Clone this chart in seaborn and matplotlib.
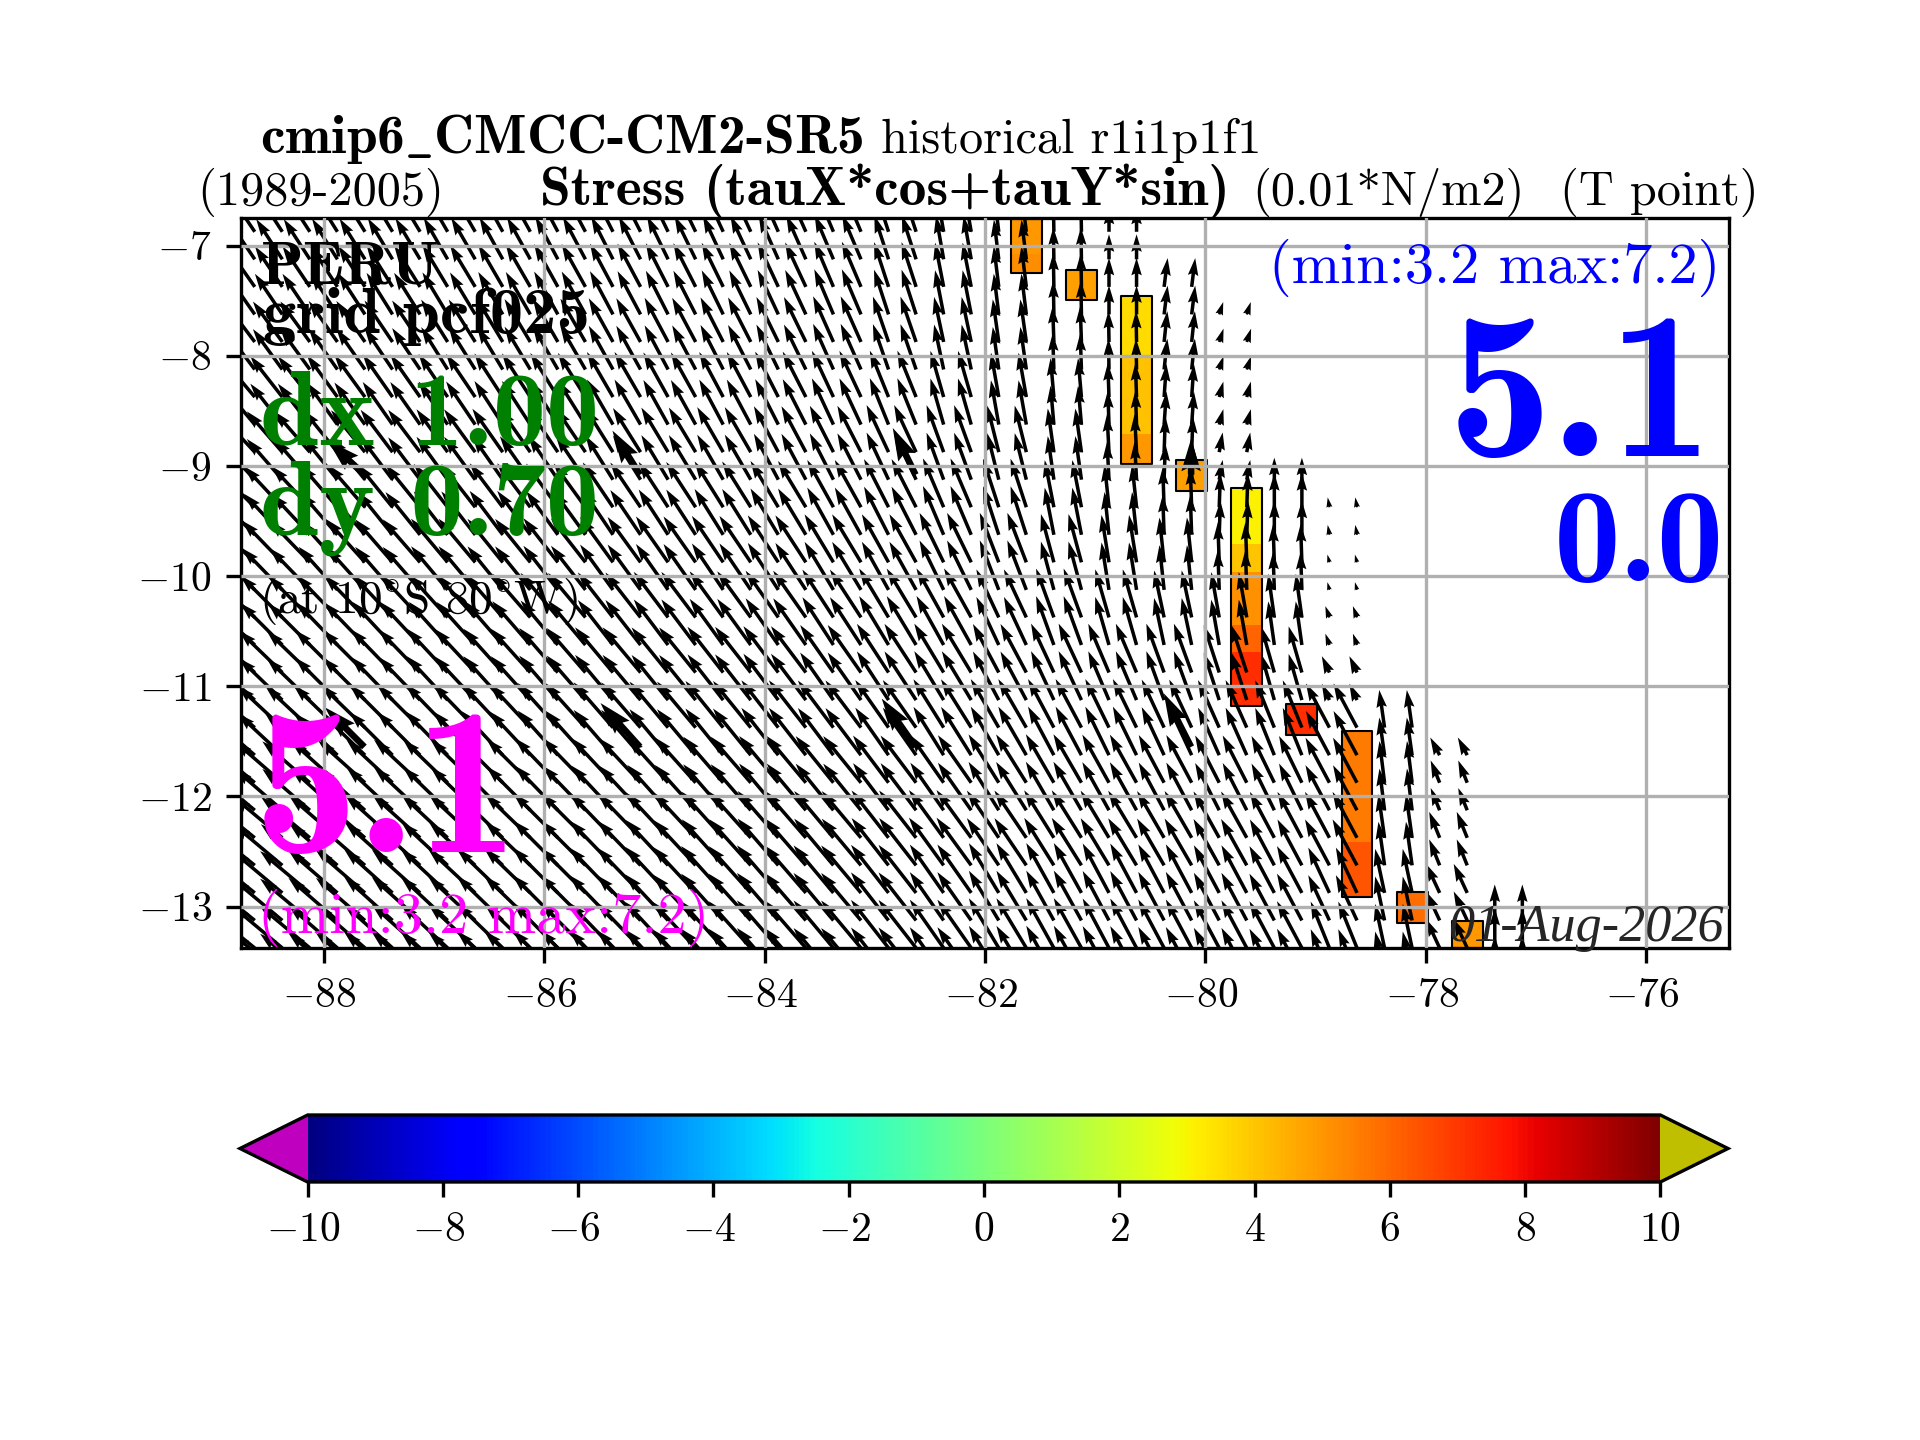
#!/usr/bin/env python3
# -*- coding: utf-8 -*-

import numpy as np
import pandas as pd
import matplotlib
matplotlib.use("Agg")
import matplotlib.pyplot as plt
from matplotlib.transforms import ScaledTranslation
import seaborn as sns

N = np.nan

# two arrows per block in each direction, 0.5 deg blocks
BLOCK_LON = [-88.75, -88.25, -87.75, -87.25, -86.75, -86.25, -85.75, -85.25,
             -84.75, -84.25, -83.75, -83.25, -82.75, -82.25, -81.75, -81.25,
             -80.75, -80.25, -79.75, -79.25, -78.75, -78.25, -77.75, -77.25]
BLOCK_LAT = [-7.0, -7.5, -8.0, -8.5, -9.0, -9.5, -10.0, -10.5, -11.0, -11.5,
             -12.0, -12.5, -13.0, -13.5]
# northernmost ocean row of each block column
LAT_TOP = [-6.875] * 17 + [-7.375, -7.625, -9.125, -9.375, -11.375, -11.625, -13.125]

ANGLE = [
    [124, 123, 122, 121, 120, 119, 118, 117, 116, 115, 114, 113, 108, 100, 97, 91, 90, 82, N, N, N, N, N, N],
    [125, 124, 123, 122, 121, 120, 119, 118, 117, 116, 115, 113, 108, 101, 97, 91, 90, 83, 72, N, N, N, N, N],
    [127, 126, 125, 124, 122, 121, 120, 119, 118, 117, 116, 114, 109, 102, 98, 92, 91, 84, 72, N, N, N, N, N],
    [130, 128, 126, 125, 124, 123, 122, 120, 119, 118, 117, 115, 112, 106, 100, 95, 92, 86, 75, N, N, N, N, N],
    [133, 131, 129, 127, 126, 125, 124, 122, 121, 120, 118, 117, 115, 110, 104, 98, 93, 88, 80, 90, N, N, N, N],
    [135, 133, 131, 129, 128, 127, 126, 124, 123, 122, 121, 119, 117, 113, 108, 101, 96, 92, 88, 90, 100, N, N, N],
    [136, 134, 132, 131, 130, 129, 128, 126, 125, 124, 123, 121, 119, 116, 111, 105, 99, 96, 92, 92, 105, N, N, N],
    [137, 135, 134, 133, 132, 131, 130, 128, 127, 126, 125, 123, 121, 119, 115, 110, 106, 102, 100, 98, 110, N, N, N],
    [138, 136, 135, 134, 133, 132, 131, 130, 129, 128, 127, 125, 123, 121, 118, 115, 113, 110, 108, 106, 115, N, N, N],
    [139, 137, 136, 135, 134, 133, 132, 131, 130, 129, 128, 127, 125, 122, 120, 118, 116, 115, 114, 112, 118, 98, 118, N],
    [140, 139, 138, 137, 136, 135, 134, 133, 132, 131, 130, 129, 127, 125, 122, 120, 119, 118, 117, 116, 118, 97, 112, N],
    [141, 140, 139, 138, 137, 136, 135, 134, 133, 132, 131, 130, 128, 126, 124, 122, 121, 120, 119, 118, 118, 98, 112, N],
    [141, 140, 139, 138, 137, 136, 135, 134, 133, 132, 131, 130, 128, 125, 121, 119, 118, 118, 118, 118, 115, 102, 115, 90],
    [141, 140, 139, 138, 137, 136, 135, 134, 133, 132, 131, 130, 128, 125, 121, 119, 118, 118, 118, 118, 112, 102, 115, 90],
]

MAG = [
    [4.8, 4.8, 4.8, 4.8, 4.8, 4.8, 4.8, 4.8, 4.8, 4.8, 4.8, 4.8, 4.6, 4.4, 4.0, 3.2, 2.5, 2.8, N, N, N, N, N, N],
    [4.9, 4.9, 4.9, 4.9, 4.9, 4.9, 4.9, 4.9, 4.9, 4.9, 4.9, 4.9, 4.7, 4.5, 4.1, 3.4, 2.9, 2.9, 1.3, N, N, N, N, N],
    [5.0, 5.0, 5.0, 5.0, 5.0, 5.0, 5.0, 5.0, 5.0, 5.0, 5.0, 5.0, 4.8, 4.6, 4.3, 3.6, 3.1, 3.1, 1.4, N, N, N, N, N],
    [5.2, 5.2, 5.2, 5.2, 5.2, 5.2, 5.2, 5.2, 5.1, 5.1, 5.1, 5.1, 5.0, 4.8, 4.5, 3.9, 3.4, 3.3, 1.6, N, N, N, N, N],
    [5.4, 5.4, 5.4, 5.3, 5.3, 5.3, 5.3, 5.2, 5.2, 5.2, 5.2, 5.2, 5.2, 5.0, 4.8, 4.4, 3.8, 3.6, 2.0, 2.2, N, N, N, N],
    [5.6, 5.6, 5.6, 5.5, 5.5, 5.5, 5.4, 5.4, 5.4, 5.4, 5.4, 5.4, 5.4, 5.3, 5.1, 4.8, 4.3, 4.0, 3.4, 3.4, 1.0, N, N, N],
    [5.8, 5.8, 5.8, 5.7, 5.7, 5.6, 5.6, 5.6, 5.6, 5.6, 5.6, 5.6, 5.5, 5.5, 5.3, 5.0, 4.8, 4.5, 4.0, 3.8, 0.8, N, N, N],
    [5.9, 5.9, 5.9, 5.9, 5.8, 5.8, 5.8, 5.7, 5.7, 5.7, 5.7, 5.7, 5.7, 5.6, 5.3, 5.2, 5.0, 4.8, 4.6, 4.4, 1.2, N, N, N],
    [6.0, 6.0, 6.0, 6.0, 6.0, 5.9, 5.9, 5.9, 5.8, 5.8, 5.8, 5.8, 5.8, 5.7, 5.5, 5.4, 5.3, 5.2, 5.0, 4.8, 1.8, N, N, N],
    [6.1, 6.1, 6.1, 6.1, 6.1, 6.0, 6.0, 6.0, 6.0, 6.0, 6.0, 5.9, 5.8, 5.7, 5.6, 5.5, 5.4, 5.3, 5.2, 5.1, 5.0, 3.8, 2.0, N],
    [6.3, 6.3, 6.3, 6.3, 6.2, 6.2, 6.2, 6.1, 6.1, 6.1, 6.1, 6.0, 5.9, 5.8, 5.7, 5.6, 5.5, 5.4, 5.3, 5.2, 5.1, 4.2, 2.4, N],
    [6.4, 6.4, 6.4, 6.4, 6.3, 6.3, 6.3, 6.2, 6.2, 6.2, 6.2, 6.1, 6.0, 5.9, 5.7, 5.6, 5.5, 5.4, 5.3, 5.2, 5.2, 4.4, 2.8, N],
    [6.5, 6.5, 6.5, 6.5, 6.4, 6.4, 6.4, 6.3, 6.3, 6.3, 6.3, 6.2, 6.1, 5.9, 5.8, 5.7, 5.6, 5.5, 5.4, 5.3, 5.0, 4.5, 3.2, 3.6],
    [6.5, 6.5, 6.5, 6.5, 6.4, 6.4, 6.4, 6.3, 6.3, 6.3, 6.3, 6.2, 6.1, 5.9, 5.8, 5.7, 5.6, 5.5, 5.4, 5.3, 5.0, 4.5, 3.2, 4.0],
]

# sparse reference arrows drawn thicker
BIG_LON = [-87.63, -85.13, -82.63, -80.13, -87.63, -85.13, -82.63, -80.13]
BIG_LAT = [-9.08, -9.08, -9.08, -9.08, -11.55, -11.55, -11.55, -11.55]
BIG_ANGLE = [137, 122, 116, 90, 135, 132, 125, 117]
BIG_MAG = [5.0, 5.2, 5.2, 3.6, 5.6, 5.9, 5.9, 6.0]

# coastal cells: stress value by stretch of latitude
SEG_LON = [-81.625, -81.625, -81.125, -80.625, -80.625, -80.625, -80.125,
           -79.625, -79.625, -79.625, -79.625, -79.625, -79.125,
           -78.625, -78.625, -78.125, -77.625]
SEG_TOP = [-6.5, -7.08, -7.22, -7.46, -7.99, -8.71, -8.95,
           -9.20, -9.71, -9.96, -10.44, -10.69, -11.165,
           -11.41, -12.41, -12.87, -13.13]
SEG_BOTTOM = [-7.08, -7.245, -7.49, -7.99, -8.71, -8.98, -9.23,
              -9.71, -9.96, -10.44, -10.69, -11.18, -11.44,
              -12.41, -12.91, -13.15, -13.5]
SEG_VALUE = [4.96, 5.2, 4.8, 3.52, 4.13, 4.96, 4.8,
             3.12, 4.0, 5.1, 6.04, 7.2, 7.2,
             5.6, 6.4, 5.9, 4.96]

XTICKS = [-88, -86, -84, -82, -80, -78, -76]
YTICKS = [-7, -8, -9, -10, -11, -12, -13]
CTICKS = [-10, -8, -6, -4, -2, 0, 2, 4, 6, 8, 10]

sns.set_theme(style="ticks", rc={
    "font.size": 10, "axes.linewidth": 0.8, "axes.edgecolor": "black",
    "xtick.major.size": 3.5, "ytick.major.size": 3.5,
    "xtick.major.width": 0.8, "ytick.major.width": 0.8,
    "xtick.labelsize": 10, "ytick.labelsize": 10,
    "xtick.color": "black", "ytick.color": "black",
    "grid.color": "#b0b0b0", "grid.linewidth": 0.8,
    "axes.formatter.use_mathtext": True, "mathtext.fontset": "cm",
})
plt.rcParams["font.family"] = ["cmr10", "DejaVu Serif"]
plt.rcParams["axes.unicode_minus"] = False

W, H = 1920.0, 1440.0
fig = plt.figure(figsize=(6.4, 4.8), dpi=300)
ax = fig.add_axes([241 / W, 1 - 948 / H, 1488 / W, 730 / H])

# seaborn refuses the name "jet", so it comes from matplotlib
cmap = plt.get_cmap("jet").copy()
cmap.set_under((0.75, 0, 0.75))
cmap.set_over((0.75, 0.75, 0))
norm = matplotlib.colors.Normalize(-10, 10)

# coloured cells, then one outline per cell
seg = pd.DataFrame({"lon": SEG_LON, "top": SEG_TOP, "bottom": SEG_BOTTOM, "value": SEG_VALUE})
ax.bar(seg["lon"], seg["top"] - seg["bottom"], bottom=seg["bottom"], width=0.28,
       color=cmap(norm(seg["value"])), linewidth=0, zorder=0.5)
for lon, cell in seg.groupby("lon"):
    rects = ax.bar(lon, cell["top"].max() - cell["bottom"].min(), bottom=cell["bottom"].min(),
                   width=0.28, fill=False, edgecolor="black", linewidth=0.5, zorder=0.6)
    rects[0].set_joinstyle("round")

# expand the blocks to the arrow grid
lons, lats, us, vs = [], [], [], []
for j, band in enumerate(BLOCK_LAT):
    for k, block in enumerate(BLOCK_LON):
        if np.isnan(MAG[j][k]):
            continue
        for lon in (block - 0.125, block + 0.125):
            for lat in (band + 0.125, band - 0.125):
                if lat > LAT_TOP[k]:
                    continue
                lons.append(lon)
                lats.append(lat)
                us.append(MAG[j][k] * np.cos(np.radians(ANGLE[j][k])))
                vs.append(MAG[j][k] * np.sin(np.radians(ANGLE[j][k])))

ax.quiver(lons, lats, us, vs, angles="xy", scale_units="xy", scale=11.02,
          units="dots", width=3.5, color="black", zorder=1)
ax.quiver(BIG_LON, BIG_LAT,
          np.array(BIG_MAG) * np.cos(np.radians(BIG_ANGLE)),
          np.array(BIG_MAG) * np.sin(np.radians(BIG_ANGLE)),
          angles="xy", scale_units="xy", scale=11.02,
          units="dots", width=6.5, color="black", zorder=1)

ax.set_xlim(-88.75, -75.25)
ax.set_ylim(-13.375, -6.75)
ax.set_xticks(XTICKS)
ax.set_yticks(YTICKS)
ax.grid(True)
ax.set_axisbelow(False)


def label(x, y, s, size, color="black", bold=False, ha="left"):
    # x, y are figure pixels, y from the top
    fig.text(x / W, 1 - y / H, s, fontsize=size, color=color, ha=ha, va="baseline",
             family="cmb10" if bold else "cmr10", zorder=5)


# cmb10 is narrower than the bold in the original, so bold sizes run a bit up
label(260, 153, r"cmip6$\mathbf{\_}$CMCC-CM2-SR5", 13.3, bold=True)
label(881, 153, "historical r1i1p1f1", 11.6)
label(197, 205, "(1989-2005)", 11.6)
label(540, 205, "Stress (tauX*cos+tauY*sin)", 13.3, bold=True)
label(1252, 205, "(0.01*N/m2)", 11.6)
label(1560, 205, "(T point)", 11.6)

label(261, 283, "PERU", 15, bold=True)
label(263, 333, "grid pcf025", 16, bold=True)
label(260, 445, "dx 1.00", 25.5, color="green", bold=True)
label(260, 534, "dy 0.70", 25.5, color="green", bold=True)
label(259, 613, r"(at 10$^{\circ}$S 80$^{\circ}$W)", 11.3)
label(254, 852, "5.1", 50, color="magenta", bold=True)
label(258, 933, "(min:3.2 max:7.2)", 14, color="magenta")
label(1720, 283, "(min:3.2 max:7.2)", 14, color="blue", ha="right")
label(1714, 456, "5.1", 50, color="blue", bold=True, ha="right")
label(1724, 581, "0.0", 32, color="blue", bold=True, ha="right")
fig.text(1725 / W, 1 - 941 / H, "01-Aug-2026", fontsize=12.5, ha="right", va="baseline",
         family="Liberation Serif", style="italic", zorder=5)

cax = fig.add_axes([240 / W, 1 - 1182 / H, 1488 / W, 67 / H])
cb = fig.colorbar(matplotlib.cm.ScalarMappable(norm=norm, cmap=cmap), cax=cax,
                  orientation="horizontal", extend="both", ticks=CTICKS)

# negative labels sit a little left of their ticks
fig.canvas.draw()
shift = ScaledTranslation(-1.0 / 72, 0, fig.dpi_scale_trans)
for lab in list(ax.get_xticklabels()) + list(cax.get_xticklabels()):
    if "-" in lab.get_text() or "\u2212" in lab.get_text():
        lab.set_transform(lab.get_transform() + shift)

fig.savefig("out.png", dpi=300)
